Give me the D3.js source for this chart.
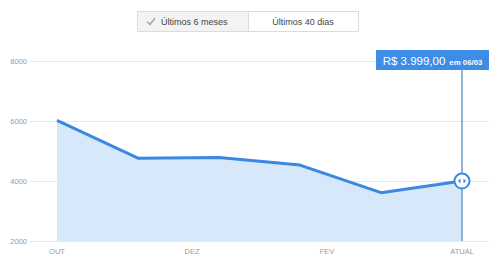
<!DOCTYPE html>
<html>
<head>
<meta charset="utf-8">
<script src="https://cdn.jsdelivr.net/npm/d3@7"></script>
<style>
  body { margin: 0; background: #fff; }
  svg { display: block; font-family: Arial, "Liberation Sans", sans-serif; }
</style>
</head>
<body>
<svg id="chart" width="500" height="259"></svg>
<script>
// chart data
const values = [6020, 4760, 4780, 4530, 3610, 3999];
const monthLabels = ["OUT", "DEZ", "FEV", "ATUAL"];
const yTicks = [2000, 4000, 6000, 8000];
const tabs = ["Últimos 6 meses", "Últimos 40 dias"];
const tipValue = "R$ 3.999,00";
const tipDate = "em 06/03";

const svg = d3.select("#chart");

const x = d3.scaleLinear().domain([0, values.length - 1]).range([57, 462]);
const xLab = d3.scalePoint().domain(monthLabels).range([57, 462]);
const y = d3.scaleLinear().domain([2000, 8000]).range([241, 61]);

// grid
svg.append("g").selectAll("line")
  .data(yTicks)
  .join("line")
  .attr("x1", 30).attr("x2", 489)
  .attr("y1", d => y(d) + 0.5).attr("y2", d => y(d) + 0.5)
  .attr("stroke", "#e8e8e8");

svg.append("g").selectAll("text")
  .data(yTicks)
  .join("text")
  .attr("x", 27).attr("y", d => y(d) + 3)
  .attr("text-anchor", "end")
  .attr("font-size", 7.5)
  .attr("fill", "#9a9a9a")
  .text(d => d);

svg.append("g").selectAll("text")
  .data(monthLabels)
  .join("text")
  .attr("x", d => xLab(d)).attr("y", 254)
  .attr("text-anchor", "middle")
  .attr("font-size", 7.5)
  .attr("fill", "#9a9a9a")
  .text(d => d);

// area + line
const area = d3.area().x((d, i) => x(i)).y0(y(2000)).y1(d => y(d));
const line = d3.line().x((d, i) => x(i)).y(d => y(d));

svg.append("path").datum(values)
  .attr("d", area)
  .attr("fill", "#d8e8fb");

svg.append("path").datum(values)
  .attr("d", line)
  .attr("fill", "none")
  .attr("stroke", "#3b88e2")
  .attr("stroke-width", 3)
  .attr("stroke-linejoin", "round");

// cursor
const last = values.length - 1;
const cx = x(last), cy = y(values[last]);

svg.append("line")
  .attr("x1", cx).attr("x2", cx)
  .attr("y1", 66).attr("y2", y(2000))
  .attr("stroke", "#6d9cc9")
  .attr("stroke-width", 1.5);

svg.append("circle")
  .attr("cx", cx).attr("cy", cy).attr("r", 7.5)
  .attr("fill", "#fff")
  .attr("stroke", "#3b88e2")
  .attr("stroke-width", 2);

svg.append("path")
  .attr("d", `M${cx - 1.5},${cy - 2.5} L${cx - 4},${cy} L${cx - 1.5},${cy + 2.5} Z M${cx + 1.5},${cy - 2.5} L${cx + 4},${cy} L${cx + 1.5},${cy + 2.5} Z`)
  .attr("fill", "#3b88e2");

// tooltip
const tip = svg.append("g");
tip.append("rect")
  .attr("x", 376).attr("y", 50).attr("width", 113).attr("height", 20)
  .attr("fill", "#3d8de6");
const tipText = tip.append("text")
  .attr("x", 432.5).attr("y", 64.5)
  .attr("text-anchor", "middle")
  .attr("fill", "#fff");
tipText.append("tspan").attr("font-size", 11.5).text(tipValue);
tipText.append("tspan").attr("font-size", 7.8).attr("font-weight", "bold").attr("dx", 4).text(tipDate);

// tabs
const tabG = svg.append("g");
tabG.append("rect")
  .attr("x", 137.5).attr("y", 11.5).attr("width", 111).attr("height", 20)
  .attr("fill", "#f3f3f3");
tabG.append("rect")
  .attr("x", 137.5).attr("y", 11.5).attr("width", 221).attr("height", 20)
  .attr("fill", "none").attr("stroke", "#dcdcdc");
tabG.append("line")
  .attr("x1", 248.5).attr("x2", 248.5).attr("y1", 11.5).attr("y2", 31.5)
  .attr("stroke", "#dcdcdc");
tabG.append("path")
  .attr("d", "M147,21.5 L150,24.5 L155,18")
  .attr("fill", "none").attr("stroke", "#aaa").attr("stroke-width", 1.6);
tabG.append("text")
  .attr("x", 161).attr("y", 25)
  .attr("font-size", 9).attr("fill", "#444")
  .text(tabs[0]);
tabG.append("text")
  .attr("x", 303).attr("y", 25)
  .attr("text-anchor", "middle")
  .attr("font-size", 9).attr("fill", "#444")
  .text(tabs[1]);
</script>
</body>
</html>
